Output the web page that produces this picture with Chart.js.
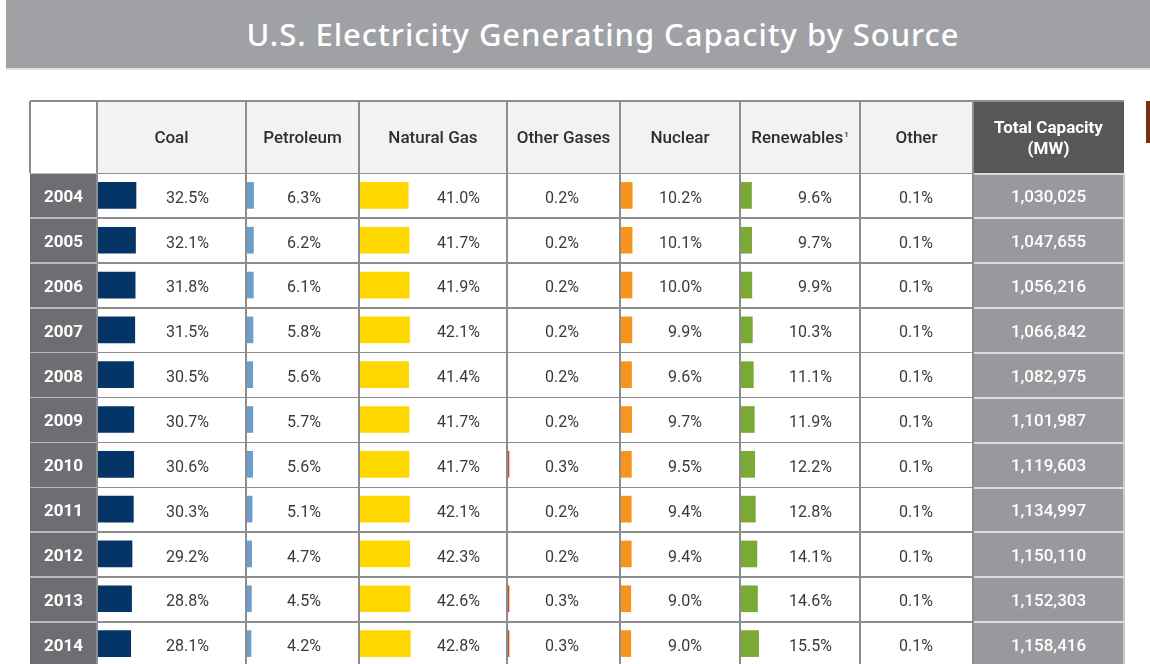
<!DOCTYPE html>
<html>
<head>
<meta charset="utf-8">
<script src="https://cdn.jsdelivr.net/npm/chart.js@4.4.1/dist/chart.umd.min.js"></script>
<style>
  html, body { margin: 0; padding: 0; background: #ffffff; }
  body { width: 1150px; height: 664px; overflow: hidden; position: relative; font-family: Roboto, "Noto Sans", sans-serif; }
  #title { position: absolute; left: 6px; top: 0; width: 1144px; height: 68px; background: #a0a1a5; box-sizing: border-box;
           padding-left: 50px; color: #ffffff; font-family: "Noto Sans", Roboto, sans-serif; font-weight: 500; font-size: 31px;
           letter-spacing: 0.95px; text-align: center; line-height: 68px; box-shadow: 0 2px 0 #e2e2e2; }
  .box { position: absolute; box-sizing: border-box; }
  .txt { position: absolute; box-sizing: border-box; display: flex; align-items: center; white-space: nowrap; z-index: 5; }
  canvas { position: absolute; z-index: 3; }
</style>
</head>
<body>
<div id="title">U.S. Electricity Generating Capacity by Source</div>
<div id="stage"></div>
<script>
// ---------------- DATA ----------------
const years = ['2004','2005','2006','2007','2008','2009','2010','2011','2012','2013','2014'];
const sourceLabels = ['Coal','Petroleum','Natural Gas','Other Gases','Nuclear','Renewables','Other'];
const coal        = [32.5, 32.1, 31.8, 31.5, 30.5, 30.7, 30.6, 30.3, 29.2, 28.8, 28.1];
const petroleum   = [6.3, 6.2, 6.1, 5.8, 5.6, 5.7, 5.6, 5.1, 4.7, 4.5, 4.2];
const naturalGas  = [41.0, 41.7, 41.9, 42.1, 41.4, 41.7, 41.7, 42.1, 42.3, 42.6, 42.8];
const otherGases  = [0.2, 0.2, 0.2, 0.2, 0.2, 0.2, 0.3, 0.2, 0.2, 0.3, 0.3];
const nuclear     = [10.2, 10.1, 10.0, 9.9, 9.6, 9.7, 9.5, 9.4, 9.4, 9.0, 9.0];
const renewables  = [9.6, 9.7, 9.9, 10.3, 11.1, 11.9, 12.2, 12.8, 14.1, 14.6, 15.5];
const other       = [0.1, 0.1, 0.1, 0.1, 0.1, 0.1, 0.1, 0.1, 0.1, 0.1, 0.1];
const totalCapacityMW = [1030025, 1047655, 1056216, 1066842, 1082975, 1101987, 1119603, 1134997, 1150110, 1152303, 1158416];
const totalHeader = ['Total Capacity', '(MW)'];

// ---------------- LAYOUT / STYLE ----------------
const seriesValues = [coal, petroleum, naturalGas, otherGases, nuclear, renewables, other];
const barColors = ['#043566', '#6b9ecb', '#ffd800', '#cf4a1e', '#f7941e', '#7aa934', null];
const colEdges = [30, 97, 246, 359, 507, 620, 740, 860, 973, 1124];
const textRightPad = [37, 38, 27, 41, 38, 28, 40];
const headerTop = 101, bodyTop = 173.3, rowH = 44.85;
const pxPerPercent = 1.2;
const lineColor = '#8d8d8d';
const stage = document.getElementById('stage');

function box(x, y, w, h, css) {
  const d = document.createElement('div');
  d.className = 'box';
  Object.assign(d.style, { left: x + 'px', top: y + 'px', width: w + 'px', height: h + 'px' }, css || {});
  stage.appendChild(d);
  return d;
}
function txt(x, y, w, h, text, css) {
  const d = document.createElement('div');
  d.className = 'txt';
  Object.assign(d.style, { left: x + 'px', top: y + 'px', width: w + 'px', height: h + 'px' }, css || {});
  d.textContent = text;
  stage.appendChild(d);
  return d;
}

const nRows = years.length;
const bodyH = rowH * nRows;

// header backgrounds
box(colEdges[0], headerTop, colEdges[1] - colEdges[0], bodyTop - headerTop, { background: '#ffffff' });
box(colEdges[1], headerTop, colEdges[8] - colEdges[1], bodyTop - headerTop, { background: '#f2f2f2' });
box(colEdges[8], headerTop, colEdges[9] - colEdges[8], bodyTop - headerTop, { background: '#58585a' });
// year column + total column backgrounds
box(colEdges[0], bodyTop, colEdges[1] - colEdges[0], bodyH, { background: '#6d6e71' });
box(colEdges[8], bodyTop, colEdges[9] - colEdges[8], bodyH, { background: '#98999c' });

// grid lines
box(colEdges[0], headerTop - 0.75, colEdges[9] - colEdges[0], 1.5, { background: lineColor, zIndex: 4 });
box(colEdges[0] - 0.75, headerTop, 1.5, bodyTop - headerTop, { background: lineColor, zIndex: 4 });
for (let c = 1; c <= 8; c++) {
  const top = headerTop;
  box(colEdges[c] - 0.75, top, 1.5, bodyTop - top + bodyH, { background: lineColor, zIndex: 4 });
}
box(colEdges[9] - 1, bodyTop, 1.5, bodyH, { background: '#c9c9c9', zIndex: 4 });
for (let r = 0; r <= nRows; r++) {
  const y = bodyTop + r * rowH - 0.75;
  box(colEdges[1], y, colEdges[8] - colEdges[1], 1.5, { background: lineColor, zIndex: 4 });
  box(colEdges[0], y, colEdges[1] - colEdges[0], 1.5, { background: '#b9b9bb', zIndex: 4 });
  box(colEdges[8] + 1, y, colEdges[9] - colEdges[8] - 1, 2, { background: '#dcdcdc', zIndex: 4 });
}

// header texts
for (let c = 0; c < sourceLabels.length; c++) {
  const x = colEdges[c + 1], w = colEdges[c + 2] - colEdges[c + 1];
  const d = txt(x, headerTop, w, bodyTop - headerTop, '', { justifyContent: 'center', color: '#2e2e30', fontSize: '17px', fontWeight: '500' });
  d.textContent = sourceLabels[c];
  if (sourceLabels[c] === 'Renewables') {
    const s = document.createElement('sup');
    s.textContent = '1';
    Object.assign(s.style, { fontSize: '8px', marginLeft: '1px', alignSelf: 'flex-start', marginTop: '29px' });
    d.appendChild(s);
  }
}
{
  const d = txt(colEdges[8], headerTop, colEdges[9] - colEdges[8], bodyTop - headerTop, '', {
    justifyContent: 'center', flexDirection: 'column', color: '#ffffff', fontSize: '17px', fontWeight: '700', lineHeight: '21px', paddingTop: '2px' });
  totalHeader.forEach(t => { const s = document.createElement('div'); s.textContent = t; d.appendChild(s); });
}

// body texts
for (let r = 0; r < nRows; r++) {
  const y = bodyTop + r * rowH;
  txt(colEdges[0], y, colEdges[1] - colEdges[0], rowH, years[r], { justifyContent: 'center', color: '#ffffff', fontSize: '17px', fontWeight: '700', paddingTop: '1px' });
  for (let c = 0; c < seriesValues.length; c++) {
    const x = colEdges[c + 1], w = colEdges[c + 2] - colEdges[c + 1];
    txt(x, y, w, rowH, seriesValues[c][r].toFixed(1) + '%', {
      justifyContent: 'flex-end', paddingRight: textRightPad[c] + 'px', color: '#3a3a3c', fontSize: '16px', paddingTop: '3px' });
  }
  txt(colEdges[8], y, colEdges[9] - colEdges[8], rowH, totalCapacityMW[r].toLocaleString('en-US'), {
    justifyContent: 'center', color: '#ffffff', fontSize: '17px', fontWeight: '500', paddingTop: '1px' });
}

// brown side tab
box(1146, 101, 4, 42, { background: '#7b2e10' });

// ---------------- BARS (Chart.js, one chart per source column) ----------------
for (let c = 0; c < seriesValues.length; c++) {
  if (!barColors[c]) continue;
  const x = colEdges[c + 1], w = colEdges[c + 2] - colEdges[c + 1];
  const cv = document.createElement('canvas');
  cv.width = w; cv.height = Math.round(bodyH);
  Object.assign(cv.style, { left: x + 'px', top: bodyTop + 'px', width: w + 'px', height: Math.round(bodyH) + 'px' });
  stage.appendChild(cv);
  const color = barColors[c];
  const isThin = sourceLabels[c] === 'Other Gases';
  new Chart(cv, {
    type: 'bar',
    data: {
      labels: years,
      datasets: [{
        label: sourceLabels[c],
        data: seriesValues[c],
        backgroundColor: isThin ? (ctx => (ctx.raw >= 0.25 ? color : 'rgba(0,0,0,0)')) : color,
        borderWidth: 0,
        barThickness: 26,
        minBarLength: isThin ? 2 : 0
      }]
    },
    options: {
      indexAxis: 'y',
      responsive: false,
      animation: false,
      devicePixelRatio: 1,
      layout: { padding: 0 },
      plugins: { legend: { display: false }, tooltip: { enabled: false } },
      scales: {
        x: { display: false, min: 0, max: w / pxPerPercent },
        y: { display: false, offset: true }
      }
    }
  });
}
</script>
</body>
</html>
